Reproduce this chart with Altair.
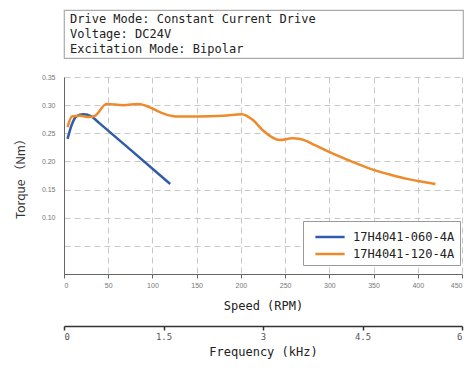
import altair as alt
import pandas as pd

# ---- data ----
info_lines = ["Drive Mode: Constant Current Drive", "Voltage: DC24V", "Excitation Mode: Bipolar"]

series_names = ["17H4041-060-4A", "17H4041-120-4A"]
series_colors = ["#2F5CA8", "#EE8A2C"]

speed_060 = [4, 9, 14, 22, 31, 40, 75, 120]
torque_060 = [0.240, 0.266, 0.280, 0.284, 0.280, 0.268, 0.221, 0.160]

speed_120 = [4, 9, 18, 29, 35, 48, 67, 84, 100, 109, 126, 150, 180, 201, 214, 225, 244,
             258, 267, 285, 301, 325, 350, 370, 388, 405, 420]
torque_120 = [0.261, 0.280, 0.281, 0.279, 0.281, 0.302, 0.300, 0.302, 0.294, 0.287, 0.280,
              0.280, 0.281, 0.284, 0.273, 0.255, 0.238, 0.241, 0.240, 0.228, 0.216, 0.200,
              0.185, 0.176, 0.169, 0.164, 0.160]

freq_ticks = [0, 1.5, 3, 4.5, 6]
speed_ticks = [0, 50, 100, 150, 200, 250, 300, 350, 400, 450]
torque_grid = [0, 0.05, 0.10, 0.15, 0.20, 0.25, 0.30, 0.35]

MONO = "DejaVu Sans Mono"

df_lines = pd.concat([
    pd.DataFrame({"speed": speed_060, "torque": torque_060, "model": series_names[0], "o": range(len(speed_060))}),
    pd.DataFrame({"speed": speed_120, "torque": torque_120, "model": series_names[1], "o": range(len(speed_120))}),
])
df_freq = pd.DataFrame({"freq": [freq_ticks[0], freq_ticks[-1]]})
df_info = pd.DataFrame({"i": range(len(info_lines)), "line": info_lines})

W = 398

# ---- info box ----
info = alt.Chart(df_info).mark_text(
    align="left", font=MONO, fontSize=12, color="#222"
).encode(
    x=alt.value(6),
    y=alt.Y("i:O", axis=None, scale=alt.Scale(type="point", padding=0.6)),
    text="line:N",
).properties(width=W + 1, height=48, view=alt.ViewBackground(stroke="#aaaaaa", strokeWidth=1.2))

# ---- main plot ----
lines = alt.Chart(df_lines).mark_line(strokeWidth=2.5, interpolate="monotone").encode(
    x=alt.X("speed:Q", title="Speed (RPM)",
            scale=alt.Scale(domain=[0, 450], nice=False),
            axis=alt.Axis(values=speed_ticks, grid=True, gridDash=[6, 4], gridColor="#c8c8c8",
                          domainColor="#666", tickColor="#666", tickSize=4,
                          labelFontSize=7, labelColor="#777", labelPadding=3,
                          titleFont=MONO, titleFontSize=12, titleFontWeight="normal",
                          titleColor="#222", titlePadding=12)),
    y=alt.Y("torque:Q", title="Torque （Nm）",
            scale=alt.Scale(domain=[0, 0.35], nice=False, zero=False),
            axis=alt.Axis(values=torque_grid, format=".2f",
                          labelExpr="datum.value < 0.099 ? '' : datum.label",
                          grid=True, gridDash=[6, 4], gridColor="#c8c8c8",
                          domainColor="#666", tickSize=0, labelPadding=9,
                          labelFontSize=7, labelColor="#777",
                          titleFont="Noto Sans CJK SC", titleFontSize=12,
                          titleFontWeight="normal", titleColor="#333", titlePadding=14)),
    color=alt.Color("model:N", scale=alt.Scale(domain=series_names, range=series_colors),
                    legend=alt.Legend(title=None, orient="none", legendX=239, legendY=211,
                                      symbolType="M-1.5,0H1.5", symbolSize=380,
                                      symbolStrokeWidth=2.5, symbolOffset=11,
                                      labelFont=MONO, labelFontSize=12, labelColor="#222",
                                      padding=5, rowPadding=0, strokeColor="#999",
                                      fillColor="white", labelOffset=12)),
    order="o:Q",
)

freq = alt.Chart(df_freq).mark_point(opacity=0).encode(
    x=alt.X("freq:Q", title="Frequency (kHz)",
            scale=alt.Scale(domain=[0, 6], nice=False),
            axis=alt.Axis(orient="bottom", offset=52, values=freq_ticks, format=".1~f",
                          grid=False, domainColor="#333", domainWidth=1.5,
                          tickColor="#333", tickWidth=1.5, tickSize=4,
                          labelFont=MONO, labelFontSize=9, labelColor="#555", labelPadding=2,
                          titleFont=MONO, titleFontSize=12, titleFontWeight="normal",
                          titleColor="#222", titlePadding=5)),
    y=alt.value(0),
)

main = alt.layer(lines, freq).resolve_scale(x="independent").properties(
    width=W, height=197, view=alt.ViewBackground(stroke=None)
)

chart = alt.vconcat(info, main, spacing=14).properties(
    padding={"left": 14, "top": 9, "right": 5, "bottom": 5}
).configure(background="white")

chart.save("out.html", embed_options={"renderer": "svg", "actions": False})
